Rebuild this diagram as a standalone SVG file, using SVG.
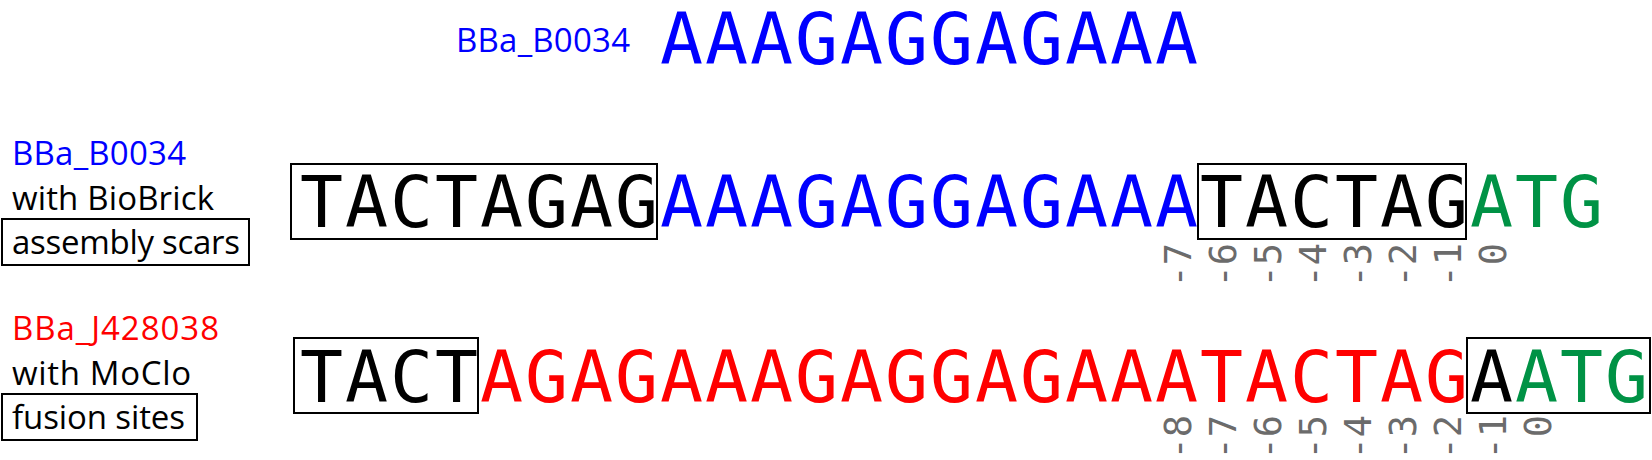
<svg xmlns="http://www.w3.org/2000/svg" width="1652" height="460" viewBox="0 0 1652 460">
<style>
.seq{font-family:"DejaVu Sans Mono",monospace;font-size:71.5px;letter-spacing:1.95px}
.lab{font-family:"Open Sans","Liberation Sans",sans-serif;font-size:33px}
.num{font-family:"DejaVu Sans Mono",monospace;font-size:37px;fill:#6b6b6b;text-anchor:end}
.box{fill:none;stroke:#000;stroke-width:2}
.k{fill:#000}.b{fill:#0000ff}.r{fill:#ff0000}.g{fill:#009245}
</style>
<rect width="1652" height="460" fill="#fff"/>
<g id="top-part">
<text class="lab b" x="456" y="52" textLength="174" lengthAdjust="spacing">BBa_B0034</text>
<text class="seq b" x="660" y="64">AAAGAGGAGAAA</text>
</g>
<g id="biobrick-label">
<text class="lab b" x="12" y="165" textLength="174" lengthAdjust="spacing">BBa_B0034</text>
<text class="lab k" x="12" y="210" textLength="202" lengthAdjust="spacing">with BioBrick</text>
<rect class="box" x="2" y="219" width="247" height="46"/>
<text class="lab k" x="12" y="254" textLength="228" lengthAdjust="spacing">assembly scars</text>
</g>
<g id="biobrick-sequence">
<rect class="box" x="291" y="164" width="366" height="75"/>
<rect class="box" x="1198" y="164" width="268" height="75"/>
<text class="seq" x="300" y="227"><tspan class="k">TACTAGAG</tspan><tspan class="b">AAAGAGGAGAAA</tspan><tspan class="k">TACTAG</tspan><tspan class="g">ATG</tspan></text>
</g>
<g id="biobrick-positions">
<text class="num" transform="translate(1191,243) rotate(-90)">-7</text>
<text class="num" transform="translate(1236,243) rotate(-90)">-6</text>
<text class="num" transform="translate(1281,243) rotate(-90)">-5</text>
<text class="num" transform="translate(1326,243) rotate(-90)">-4</text>
<text class="num" transform="translate(1371,243) rotate(-90)">-3</text>
<text class="num" transform="translate(1416,243) rotate(-90)">-2</text>
<text class="num" transform="translate(1461,243) rotate(-90)">-1</text>
<text class="num" transform="translate(1506,243) rotate(-90)">0</text>
</g>
<g id="moclo-label">
<text class="lab r" x="12" y="340" textLength="207" lengthAdjust="spacing">BBa_J428038</text>
<text class="lab k" x="12" y="385" textLength="179" lengthAdjust="spacing">with MoClo</text>
<rect class="box" x="2" y="394" width="195" height="46"/>
<text class="lab k" x="12" y="429" textLength="173" lengthAdjust="spacing">fusion sites</text>
</g>
<g id="moclo-sequence">
<rect class="box" x="294" y="338" width="184" height="75"/>
<rect class="box" x="1467" y="338" width="183" height="75"/>
<text class="seq" x="300" y="402"><tspan class="k">TACT</tspan><tspan class="r">AGAGAAAGAGGAGAAATACTAG</tspan><tspan class="k">A</tspan><tspan class="g">ATG</tspan></text>
</g>
<g id="moclo-positions">
<text class="num" transform="translate(1191,415) rotate(-90)">-8</text>
<text class="num" transform="translate(1236,415) rotate(-90)">-7</text>
<text class="num" transform="translate(1281,415) rotate(-90)">-6</text>
<text class="num" transform="translate(1326,415) rotate(-90)">-5</text>
<text class="num" transform="translate(1371,415) rotate(-90)">-4</text>
<text class="num" transform="translate(1416,415) rotate(-90)">-3</text>
<text class="num" transform="translate(1461,415) rotate(-90)">-2</text>
<text class="num" transform="translate(1506,415) rotate(-90)">-1</text>
<text class="num" transform="translate(1551,415) rotate(-90)">0</text>
</g>
<g id="connectors"/>
</svg>
